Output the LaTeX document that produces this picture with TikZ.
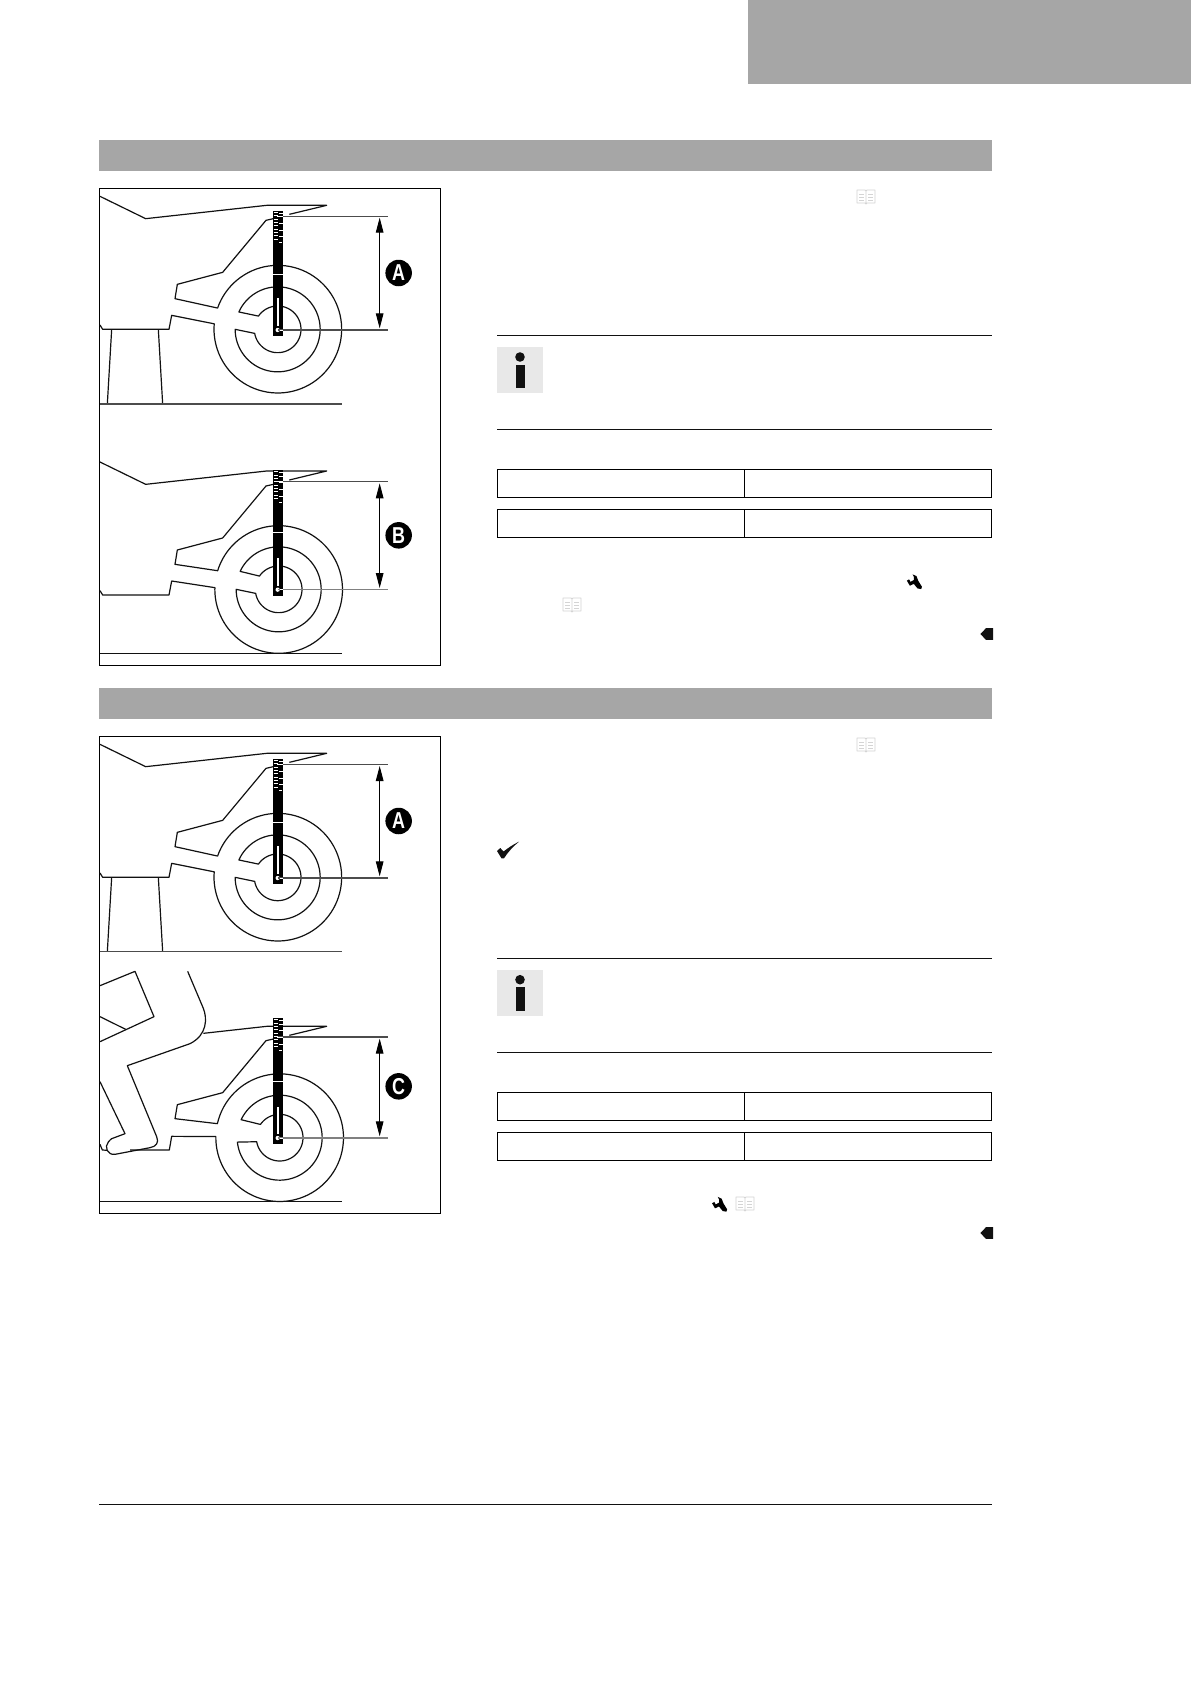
\documentclass[tikz,border=0pt]{standalone}
\usepackage{fontspec}
\setmainfont{Liberation Sans}
\usetikzlibrary{arrows.meta}
\definecolor{band}{HTML}{A6A6A6}
\definecolor{iconbg}{HTML}{E8E8E8}
\definecolor{booklin}{HTML}{D4D4D4}
\definecolor{inkd}{HTML}{111111}
\tikzset{
  x=1pt,y=-1pt,
  ln/.style={draw=inkd,line width=1.2pt,line join=round},
  rulepage/.style={draw=inkd,line width=1pt},
  tabl/.style={draw=black,line width=1pt,fill=white},
  fram/.style={draw=black,line width=.9pt},
  meas/.style={draw=#1,line width=1.15pt},
  dimarrow/.style={draw=black,line width=.9pt,{Triangle[length=15pt,width=7.6pt]}-{Triangle[length=15pt,width=7.6pt]}},
  letterdot/.style={circle,fill=black,text=white,inner sep=0pt,minimum size=26.5pt,font=\bfseries\fontsize{23}{23}\selectfont},
  zoomed/.style={x=.33333pt,y=-.33333pt},
}
\newcommand{\wheelrings}[6]{%
  \draw[ln] plot[domain=#3:#4,samples=90] ({#1+127.5*cos(\x)},{#2+127.5*sin(\x)})
     -- plot[domain=#5:#6,samples=70] ({#1+70*cos(\x)},{#2+70*sin(\x)}) -- cycle;}
% ruler: top y, white bar y, slot top y, slot bottom y, circle y
\newcommand{\scalebar}[5]{%
  \fill[black] (550,#1) rectangle (578,#1+376);
  \foreach \d in {4,14,...,84} \draw[white,line width=.7pt] (551,#1+\d) -- (563,#1+\d);
  \foreach \d in {7,17,37,57,77} \draw[white,line width=.7pt] (567,#1+\d) -- (578,#1+\d);
  \draw[white,line width=.7pt] (568,#1+95) -- (576,#1+95);
  \draw[white,line width=1pt] (550,#2) -- (578,#2);
  \fill[white] (561.5,#3) rectangle (565.5,#4);
  \fill[white] (563,#5) circle[radius=6.5];}
% book icon
\newcommand{\bookicon}[2]{%
  \begin{scope}[shift={(#1pt,-#2pt)}]
   \draw[booklin,line width=.8pt,line join=round] (0,7) -- (-1,6) -- (-9,6) -- (-9,-7) -- (-1,-7) -- (0,-6) -- (1,-7) -- (9,-7) -- (9,6) -- (1,6) -- cycle (0,-6) -- (0,6);
   \foreach \yy in {-3,0,3} {\draw[booklin,line width=.8pt] (-7,\yy) -- (-2,\yy); \draw[booklin,line width=.8pt] (2,\yy) -- (7,\yy);}
  \end{scope}}
\newcommand{\wrenchicon}[2]{%
  \fill[black,shift={(#1pt,-#2pt)}] (-2,-7.4) -- (2,-5.6) -- (3.7,-1) -- (7.4,5) -- (6.7,7.4) -- (3,6.7) -- (-.7,2.2) -- (-4.7,4) -- (-7.6,-1) -- (-5.4,-2.4) -- (-4,.2) -- (-.7,-1.7) -- (-.7,-5) -- cycle;}
\newcommand{\sectionendtag}[2]{%
  \fill[inkd,shift={(#1pt,-#2pt)}] (-6.7,0) -- (-1,-5.8) -- (6,-5.8) -- (6,5.8) -- (-1,5.8) -- cycle;}
\newcommand{\infoicon}[2]{%
  \begin{scope}[shift={(#1pt,-#2pt)}]
   \fill[iconbg] (0,0) rectangle (46.3,45.6);
   \fill[inkd] (23,9.7) circle[radius=4.8];
   \fill[inkd] (19.3,17.4) rectangle (28,41);
  \end{scope}}
\newcommand{\notetable}[2]{%
  \draw[tabl] (497.3,#1) rectangle (991.8,#2);
  \draw[tabl] (744.4,#1) -- (744.4,#2);}
\begin{document}
\begin{tikzpicture}
\useasboundingbox (0,0) rectangle (1191,1684);
\fill[white] (0,0) rectangle (1191,1684);
% page bands
\fill[band] (748,0) rectangle (1191,84);
\fill[band] (99,140) rectangle (992,171);
\fill[band] (99,688) rectangle (992,719);
\draw[rulepage] (99,1504.5) -- (992,1504.5);
% frames
\node[fram,minimum width=340.6pt,minimum height=477pt,inner sep=0pt,anchor=north west] (frameOne) at (99.3,188.3) {};
\node[fram,minimum width=340.6pt,minimum height=477pt,inner sep=0pt,anchor=north west] (frameTwo) at (99.3,736.3) {};

%% first illustration
\begin{scope}[zoomed,shift={(90pt,-180pt)}]
 % A
 \draw[ln] (30,49) -- (167,116) -- (530,76) -- (710,76) -- (598,103);
 \draw[ln] (550,116) -- (528,121) -- (398,277) -- (262,313) -- (255,356) -- (382,384)
   -- plot[domain=199.5:544.8,samples=90] ({563.5+191.5*cos(\x)},{447.5+191.5*sin(\x)}) -- (245,406) -- (237,448) -- (38,448) -- (30,435);
 \wheelrings{563}{448}{204.1}{540}{170}{-145.4}
 \draw[ln] (65,448) -- (52,672);
 \draw[ln] (205,448) -- (218,672);
 \draw[meas=black!70] (30,672) -- (755,672);
 \scalebar{93}{283}{355}{438}{450}
 \coordinate (aTopL) at (563,109); \coordinate (aTopR) at (893,109);
 \coordinate (aBotL) at (563,450); \coordinate (aBotR) at (893,450);
 \draw[meas=black!70] (aTopL) -- (aTopR);
 \draw[meas=black!70] (aBotL) -- (aBotR);
 \draw[white,line width=1pt] (561,109) -- (578,109);
 \draw[white,line width=1pt] (569,450) -- (578,450);
 \coordinate (aArrT) at (869,113); \coordinate (aArrB) at (869,445);
 \draw[dimarrow] (aArrT) -- (aArrB);
 \node[letterdot] (labA) at (926,279) {\scalebox{.78}[1]{A}};
 % B
 \draw[ln] (30,846) -- (167,913) -- (530,873) -- (710,873) -- (598,900);
 \draw[ln] (550,913) -- (528,918) -- (398,1074) -- (262,1110) -- (255,1153) -- (382,1172)
   -- plot[domain=197:540,samples=90] ({566+191.5*cos(\x)},{1228.5+191.5*sin(\x)}) -- (375,1223) -- (245,1203) -- (237,1245) -- (38,1245) -- (30,1232);
 \wheelrings{566}{1228}{205}{540}{170}{-145.4}
 \draw[ln] (30,1420) -- (755,1420);
 \scalebar{871}{1057}{1133}{1217}{1229}
 \coordinate (bTopL) at (563,905); \coordinate (bTopR) at (893,905);
 \coordinate (bBotL) at (563,1229); \coordinate (bBotR) at (893,1229);
 \draw[meas=black!70] (bTopL) -- (bTopR);
 \draw[meas=black!50] (bBotL) -- (bBotR);
 \draw[white,line width=1pt] (561,905) -- (578,905);
 \draw[white,line width=1pt] (569,1229) -- (578,1229);
 \coordinate (bArrT) at (869,910); \coordinate (bArrB) at (869,1224);
 \draw[dimarrow] (bArrT) -- (bArrB);
 \node[letterdot] (labB) at (926,1066) {\scalebox{.78}[1]{B}};
\end{scope}

%% second illustration
\begin{scope}[zoomed,shift={(90pt,-730pt)}]
 % A
 \draw[ln] (30,43) -- (167,110) -- (530,70) -- (710,70) -- (598,97);
 \draw[ln] (550,110) -- (528,115) -- (398,271) -- (262,307) -- (255,350) -- (382,378)
   -- plot[domain=199.5:544.8,samples=90] ({563.5+191.5*cos(\x)},{441.5+191.5*sin(\x)}) -- (245,400) -- (237,442) -- (38,442) -- (30,429);
 \wheelrings{563}{442}{204.1}{540}{170}{-145.4}
 \draw[ln] (65,442) -- (52,665);
 \draw[ln] (205,442) -- (218,665);
 \draw[meas=black!70] (30,665) -- (755,665);
 \scalebar{87}{277}{349}{432}{444}
 \coordinate (cTopL) at (563,103); \coordinate (cTopR) at (893,103);
 \coordinate (cBotL) at (563,444); \coordinate (cBotR) at (893,444);
 \draw[meas=black!70] (cTopL) -- (cTopR);
 \draw[meas=black!70] (cBotL) -- (cBotR);
 \draw[white,line width=1pt] (561,103) -- (578,103);
 \draw[white,line width=1pt] (569,444) -- (578,444);
 \coordinate (cArrT) at (869,108); \coordinate (cArrB) at (869,439);
 \draw[dimarrow] (cArrT) -- (cArrB);
 \node[letterdot] (labA2) at (926,273) {\scalebox{.78}[1]{A}};
 % C, rider
 \draw[ln] (30,767) -- (135,724) -- (192,860) -- (30,935);
 \draw[ln] (30,860) -- (107,898);
 \draw[ln] (293,724) -- (340,835) .. controls (352,865) and (352,915) .. (300,941)
   -- (112,1007) -- (200,1220) .. controls (208,1238) and (198,1250) .. (180,1253)
   -- (75,1273) .. controls (52,1276) and (42,1250) .. (55,1236) .. controls (60,1230) and (62,1228) .. (65,1226)
   -- (105,1211) -- (30,1055);
 \draw[ln] (30,1243) -- (37,1260) -- (53,1261);
 \draw[ln] (340,910) -- (530,889) -- (710,889) -- (598,916);
 \draw[ln] (550,927) -- (528,932) -- (398,1088) -- (262,1124) -- (255,1166) -- (382,1181)
   -- plot[domain=193:541,samples=90] ({569+191.5*cos(\x)},{1223+191.5*sin(\x)}) -- (245,1219) -- (238,1260) -- (120,1260);
 \wheelrings{569}{1223}{205}{534}{170}{-145.4}
 \draw[ln] (30,1415) -- (755,1415);
 \scalebar{865}{1053}{1130}{1213}{1224}
 \coordinate (dTopL) at (563,921); \coordinate (dTopR) at (893,921);
 \coordinate (dBotL) at (563,1224); \coordinate (dBotR) at (893,1224);
 \draw[meas=black!70] (dTopL) -- (dTopR);
 \draw[meas=black!50] (dBotL) -- (dBotR);
 \draw[white,line width=1pt] (561,921) -- (578,921);
 \draw[white,line width=1pt] (569,1224) -- (578,1224);
 \coordinate (dArrT) at (869,926); \coordinate (dArrB) at (869,1219);
 \draw[dimarrow] (dArrT) -- (dArrB);
 \node[letterdot] (labC) at (926,1069) {\scalebox{.78}[1]{C}};
\end{scope}

%% right column, upper section
\bookicon{866}{197}
\draw[rulepage] (497,335.3) -- (992,335.3);
\infoicon{497}{347.3}
\draw[rulepage] (497,429.3) -- (992,429.3);
\notetable{469.3}{497.7}
\notetable{509.3}{537.5}
\wrenchicon{914.5}{581.7}
\bookicon{572}{605}
\sectionendtag{987}{634}

%% right column, lower section
\bookicon{866}{745}
\fill[inkd] (497,851) -- (500.3,848) -- (503.5,851.5) .. controls (508,848) and (513,844.5) .. (519,841.7) .. controls (513,846.5) and (508,852) .. (504,858.3) -- (501.5,858.3) -- cycle;
\draw[rulepage] (497,958.3) -- (992,958.3);
\infoicon{497}{970}
\draw[rulepage] (497,1052.3) -- (992,1052.3);
\notetable{1092.3}{1120.7}
\notetable{1132.3}{1160.7}
\wrenchicon{719.7}{1204.3}
\bookicon{745}{1204}
\sectionendtag{987}{1233}
\end{tikzpicture}
\end{document}
